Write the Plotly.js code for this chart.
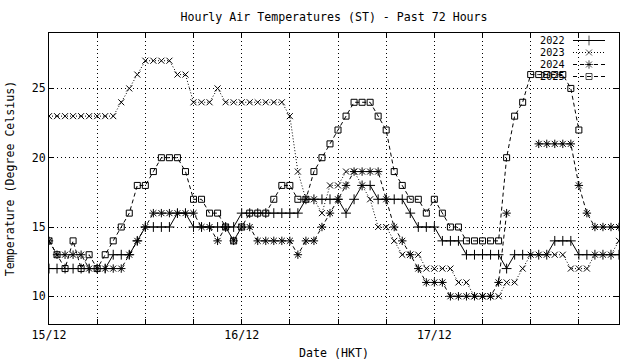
<!DOCTYPE html>
<html><head><meta charset="utf-8">
<script src="https://cdn.plot.ly/plotly-3.0.1.min.js"></script>
<style>html,body{margin:0;padding:0;background:#fff}#chart{width:640px;height:360px}</style>
</head><body><div id="chart"></div>
<script>
// Hourly readings, 15/12 00:00 onwards (one value per hour)
const temps2022 = [12,12,12,12,12,12,12,12, 13,13,13, 14, 15,15,15,15, 16,16, 15,15,15,15,15,15,
  16,16,16,16,16,16,16,16, 17,17,17,17,17, 16, 17, 18,18, 17,17,17,17, 16, 15,15,
  15, 14,14,14, 13,13,13,13,13, 12, 13,13,13,13,13, 14,14,14, 13,13,13,13,13,13];
const temps2023 = [23,23,23,23,23,23,23,23,23, 24, 25, 26, 27,27,27,27, 26,26, 24,24,24, 25, 24,24,
  24,24,24,24,24,24, 23, 19, 17, 17, 16, 18, 18, 19, 19, 18, 17, 15,15, 14, 13,13,13, 12,
  12,12,12, 11,11, 10,10,10,10, 11,11, 12, 13,13,13,13,13, 12,12,12, 13,13,13, 14];
const temps2024 = [14, 13,13,13,13, 12,12,12,12,12, 13, 14, 15, 16,16,16,16,16,16, 15,15, 14, 15, 14,
  15,15, 14,14,14,14,14, 13, 14,14, 15, 16, 17, 18, 19,19,19,19, 17, 15, 14, 13, 12, 11,
  11,11, 10,10,10,10,10,10, 11, 16, null,null,null, 21,21,21,21,21, 18, 16, 15,15,15,15];
const temps2025 = [14,13,12,14,12,13,12,13,14,15,16,18,18,19,20,20,20,19,17,17,16,16,15,14,
  15,16,16,16,17,18,18,17,17,19,20,21,22,23,24,24,24,23,22,19,18,17,17,16,
  17,16,15,15,14,14,14,14,14,20,23,24,26,26,26,26,26,25,22];
const seriesNames = ['2022','2023','2024','2025'];
const dayLabels = ['15/12','16/12','17/12'];
const yTicks = [10,15,20,25];

function hourStamp(i){
  const d = new Date(Date.UTC(2025,11,15,i));
  return d.toISOString().slice(0,16).replace('T',' ');
}
const times = temps2022.map((_,i)=>hourStamp(i));

const tickVals = [], tickText = [];
for (let h = 0; h < 72; h += 6) {
  tickVals.push(hourStamp(h));
  tickText.push(h % 24 === 0 ? dayLabels[h/24] : '');
}

const FONT = 'DejaVu Sans Mono, Liberation Mono, monospace';
const FS = 11.6;
const KEY_FS = 10.2;
const styles = [
  {dash:'solid', symbol:'cross-thin-open', size:7},
  {dash:'1px,2px', symbol:'x-thin-open', size:6},
  {dash:'4px,3px', symbol:'asterisk-open', size:7},
  {dash:'4px,3px', symbol:'square-open', size:6}
];
const allSeries = [temps2022, temps2023, temps2024, temps2025];
const traces = allSeries.map((vals,k)=>({
  type:'scatter', mode:'lines+markers', name:seriesNames[k], showlegend:false,
  x: times.slice(0, vals.length), y: vals,
  connectgaps:false,
  line:{color:'#000', width:1, dash:styles[k].dash},
  marker:{symbol:styles[k].symbol, size:styles[k].size, color:'#000',
          line:{color:'#000', width:1}}
}));

// gnuplot-style key (label on the left, sample on the right), placed in pixel space
const plotBox = {left:49, right:619, top:33, bottom:324};
const key = {textRight:565, lineFrom:573, lineTo:605, firstRow:40.5, rowStep:12};
const annotations = [];
seriesNames.forEach((name,k)=>{
  const rowY = key.firstRow + k*key.rowStep;
  const mid = (key.lineFrom + key.lineTo)/2;
  traces.push({
    type:'scatter', mode:'lines+markers', xaxis:'x2', yaxis:'y2', showlegend:false,
    hoverinfo:'skip',
    x:[key.lineFrom, mid, key.lineTo], y:[rowY,rowY,rowY],
    line:{color:'#000', width:1, dash:styles[k].dash},
    marker:{symbol:styles[k].symbol, size:[0,styles[k].size,0], color:'#000',
            line:{color:'#000', width:1}}
  });
  annotations.push({xref:'x2', yref:'y2', x:key.textRight, y:rowY, xanchor:'right', yanchor:'middle',
    text:name, showarrow:false, borderpad:0, borderwidth:0,
    font:{family:FONT, size:KEY_FS, color:'#000'}});
});

const axisCommon = {
  showline:true, linecolor:'#000', linewidth:1, mirror:'ticks',
  ticks:'inside', ticklen:5, tickcolor:'#000', tickwidth:1,
  showgrid:true, gridcolor:'#000', gridwidth:1, griddash:'1px,3px',
  zeroline:false, automargin:false,
  tickfont:{family:FONT, size:FS, color:'#000'}
};

const layout = {
  width:640, height:360,
  margin:{l:plotBox.left, r:640-plotBox.right, t:plotBox.top, b:360-plotBox.bottom},
  paper_bgcolor:'#fff', plot_bgcolor:'#fff',
  font:{family:FONT, size:FS, color:'#000'},
  title:{text:'Hourly Air Temperatures (ST) - Past 72 Hours', font:{family:FONT, size:FS, color:'#000'},
         x:0.5, xref:'paper', xanchor:'center', y:1-17/360, yref:'container', yanchor:'middle'},
  xaxis: Object.assign({}, axisCommon, {
    type:'date', range:[hourStamp(0), hourStamp(71)],
    tickmode:'array', tickvals:tickVals, ticktext:tickText,
    title:{text:'Date (HKT)', font:{family:FONT, size:FS, color:'#000'}, standoff:8}
  }),
  yaxis: Object.assign({}, axisCommon, {
    range:[8,29], tickmode:'array', tickvals:yTicks,
    title:{text:'Temperature (Degree Celsius)', font:{family:FONT, size:FS, color:'#000'}, standoff:14}
  }),
  xaxis2:{overlaying:'x', anchor:'y2', range:[plotBox.left, plotBox.right], visible:false, fixedrange:true},
  yaxis2:{overlaying:'y', anchor:'x2', range:[plotBox.bottom, plotBox.top], visible:false, fixedrange:true},
  annotations: annotations,
  showlegend:false
};

Plotly.newPlot('chart', traces, layout, {staticPlot:true, displayModeBar:false});
</script>
</body></html>
